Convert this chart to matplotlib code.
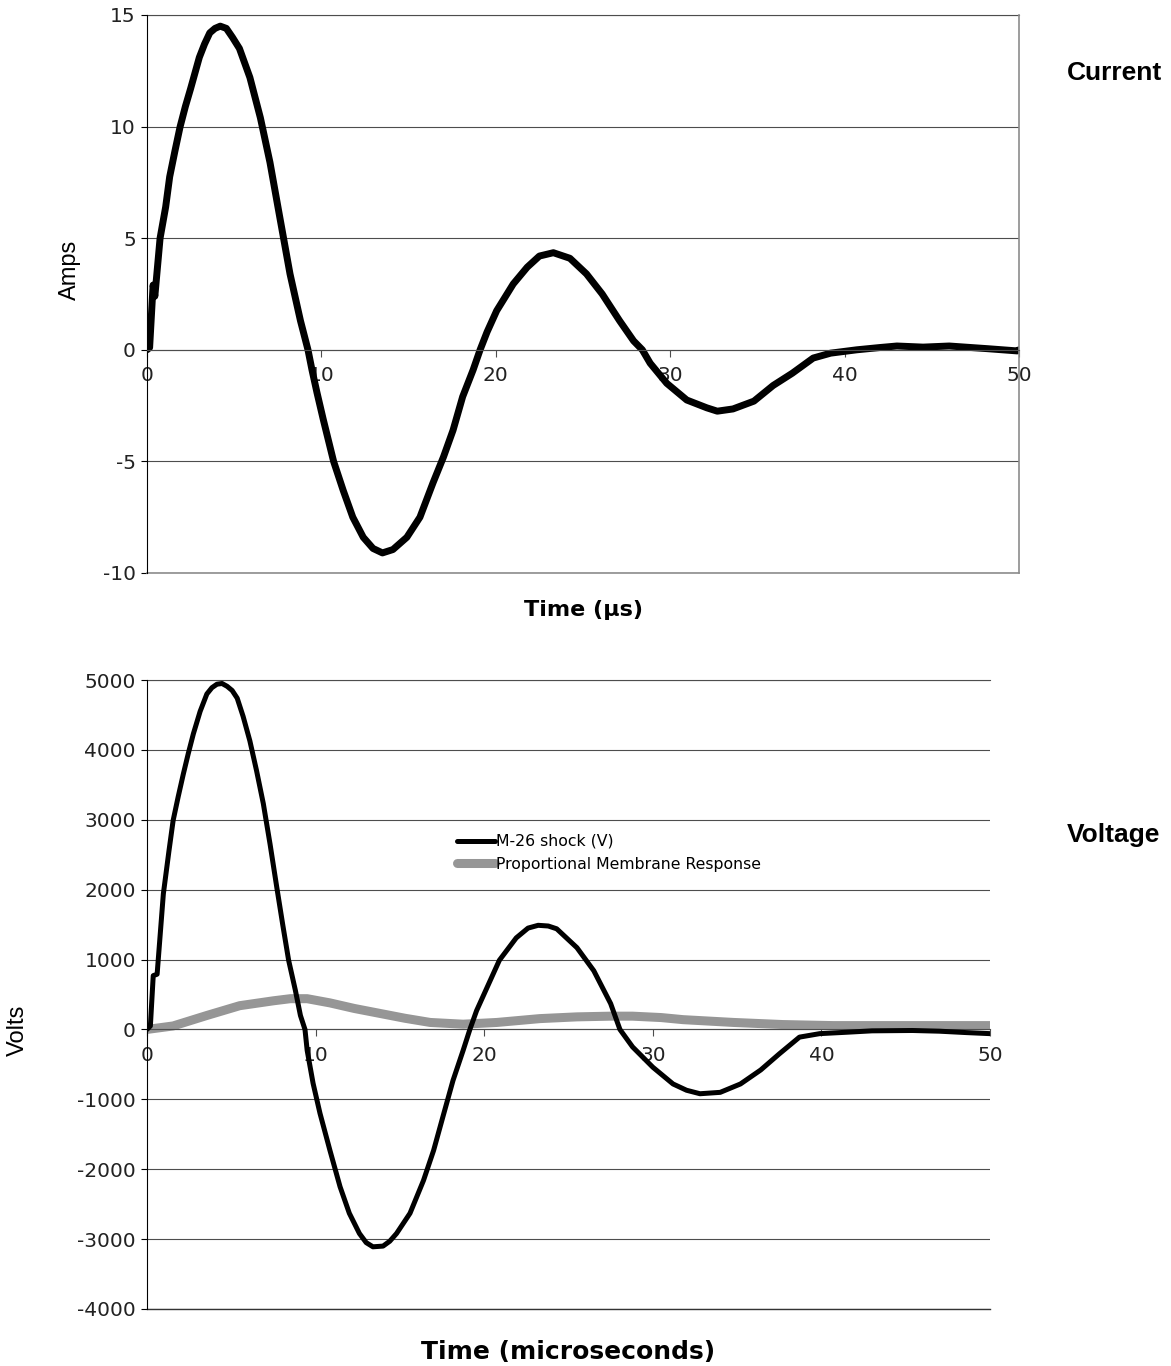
import matplotlib
matplotlib.use("Agg")
import matplotlib.pyplot as plt

plt.rcParams["axes.unicode_minus"] = False

# Current trace (top panel)
t_current = [0, 0.15, 0.35, 0.45, 0.75, 1.07, 1.3, 1.6, 1.9, 2.2, 2.5, 3.0,
             3.3, 3.6, 3.9, 4.2, 4.55, 4.9, 5.3, 5.9, 6.5, 7.05, 7.6, 8.2,
             8.8, 9.23, 9.46, 9.75, 10.1, 10.7, 11.25, 11.8, 12.4, 12.96, 13.5,
             14.1, 14.9, 15.65, 16.4, 17.0, 17.55, 18.1, 18.7, 19.1, 19.5,
             20.05, 21.0, 21.8, 22.5, 23.3, 24.25, 25.2, 26.1, 27.1, 27.9,
             28.4, 28.85, 29.8, 30.95, 32.1, 32.7, 33.6, 34.8, 35.9, 37.0,
             38.2, 39.2, 40.7, 42.0, 43.0, 44.5, 46.0, 48.2, 49.9, 50]
amps = [0, 0.1, 2.9, 2.4, 5.0, 6.4, 7.75, 8.9, 10.0, 10.9, 11.7, 13.1,
        13.7, 14.2, 14.4, 14.5, 14.4, 14.0, 13.5, 12.2, 10.4, 8.4, 6.0, 3.4,
        1.3, 0, -0.9, -1.93, -3.1, -5.0, -6.3, -7.5, -8.4, -8.9, -9.1,
        -8.95, -8.4, -7.5, -5.96, -4.8, -3.6, -2.1, -0.9, 0, 0.8,
        1.75, 2.95, 3.7, 4.2, 4.35, 4.1, 3.4, 2.5, 1.3, 0.4,
        0, -0.6, -1.5, -2.25, -2.6, -2.75, -2.65, -2.3, -1.6, -1.05,
        -0.37, -0.15, 0, 0.1, 0.17, 0.12, 0.17, 0.05, -0.05, 0]

# Voltage trace (bottom panel)
t_voltage = [0, 0.2, 0.37, 0.6, 0.97, 1.3, 1.55, 1.85, 2.15, 2.45, 2.75, 3.15,
             3.55, 3.85, 4.15, 4.45, 4.75, 5.05, 5.35, 5.7, 6.1, 6.5, 6.9, 7.3,
             7.7, 8.05, 8.4, 8.8, 9.1, 9.37, 9.5, 9.85, 10.26, 10.85, 11.45,
             12.0, 12.6, 13.0, 13.4, 14.0, 14.4, 14.8, 15.6, 16.4, 17.0, 17.55,
             18.15, 18.75, 19.15, 19.55, 20.9, 21.9, 22.6, 23.2, 23.8, 24.3,
             25.5, 26.5, 27.5, 28.05, 28.8, 30.0, 31.2, 32.0, 32.8, 34.0, 35.2,
             36.4, 37.5, 38.7, 39.9, 41.5, 43, 45.4, 47, 48.6, 50]
volts = [0, 50, 770, 790, 1940, 2550, 2990, 3330, 3650, 3950, 4230, 4550,
         4800, 4890, 4940, 4950, 4910, 4850, 4740, 4480, 4130, 3700, 3230, 2650,
         2030, 1500, 990, 560, 200, 0, -300, -770, -1200, -1730, -2250,
         -2630, -2920, -3050, -3110, -3100, -3030, -2920, -2630, -2160, -1730,
         -1250, -730, -300, 0, 270, 990, 1310, 1450, 1490, 1480, 1440,
         1170, 840, 370, 0, -250, -540, -780, -870, -920, -900, -780,
         -580, -350, -110, -60, -40, -20, -15, -25, -45, -60]

# Proportional membrane response (grey)
t_membrane = [0, 1.55, 3.55, 5.5, 7.5, 8.5, 9.5, 10.85, 12.3, 13.8, 15.3, 16.8,
              18.75, 20.75, 23.3, 25.5, 27.5, 28.8, 30.5, 31.8, 34.8, 37.7,
              40.7, 45, 50]
membrane = [0, 50, 200, 340, 410, 440, 440, 380, 300, 230, 160, 100,
            75, 100, 155, 180, 190, 190, 170, 140, 100, 70,
            55, 55, 55]

x_ticks = [0, 10, 20, 30, 40, 50]
amp_ticks = [-10, -5, 0, 5, 10, 15]
volt_ticks = [-4000, -3000, -2000, -1000, 0, 1000, 2000, 3000, 4000, 5000]

W, H = 1171, 1366
fig = plt.figure(figsize=(W / 100, H / 100), dpi=100)

grid_col = "#4d4d4d"
frame_col = "#8c8c8c"


def style_axes(ax, yticks, right_frame):
    ax.set_xlim(0, 50)
    ax.set_ylim(yticks[0], yticks[-1])
    ax.set_xticks(x_ticks)
    ax.set_yticks(yticks)
    ax.spines["bottom"].set_position(("data", 0))
    ax.spines["bottom"].set_color(grid_col)
    ax.spines["bottom"].set_linewidth(0.8)
    ax.spines["top"].set_visible(False)
    ax.spines["left"].set_color("black")
    ax.spines["left"].set_linewidth(0.8)
    if right_frame:
        ax.spines["right"].set_color(frame_col)
        ax.spines["right"].set_linewidth(1.2)
    else:
        ax.spines["right"].set_visible(False)
    ax.yaxis.grid(True, color=grid_col, linewidth=0.8)
    ax.set_axisbelow(True)
    ax.tick_params(axis="x", direction="out", length=5, width=0.8,
                   color=grid_col, pad=7, labelsize=14.5, labelcolor="#222222")
    ax.tick_params(axis="y", direction="out", length=4, width=0.8,
                   pad=4, labelsize=14.5, labelcolor="#222222")
    for lab in ax.get_xticklabels() + ax.get_yticklabels():
        lab.set_family("DejaVu Sans")


# Top panel: current
ax1 = fig.add_axes([147 / W, 1 - 573 / H, (1019 - 147) / W, (573 - 15) / H])
style_axes(ax1, amp_ticks, right_frame=True)
ax1.axhline(-10, color=frame_col, linewidth=1.2, clip_on=False)
ax1.axhline(15, color=grid_col, linewidth=0.8, clip_on=False)
ax1.plot(t_current, amps, color="black", linewidth=5,
         solid_capstyle="round", solid_joinstyle="round")
ax1.text(0.5, -0.066, "Time (µs)", transform=ax1.transAxes, ha="center",
         va="center", fontsize=16, fontweight="bold", family="DejaVu Sans")

# Bottom panel: voltage
ax2 = fig.add_axes([147 / W, 1 - 1309 / H, (990 - 147) / W, (1309 - 680) / H])
style_axes(ax2, volt_ticks, right_frame=False)
ax2.axhline(-4000, color="#333333", linewidth=1.0, clip_on=False)
ax2.axhline(5000, color=grid_col, linewidth=0.8, clip_on=False)
ax2.plot(t_membrane, membrane, color="#969696", linewidth=6.5,
         solid_capstyle="round", solid_joinstyle="round",
         label="Proportional Membrane Response", zorder=2)
ax2.plot(t_voltage, volts, color="black", linewidth=3.6,
         solid_capstyle="round", solid_joinstyle="round",
         label="M-26 shock (V)", zorder=3)
handles, labels = ax2.get_legend_handles_labels()
ax2.legend(handles[::-1], labels[::-1], loc="upper left",
           bbox_to_anchor=((457 - 147) / 843, (1309 - 834) / 629),
           frameon=False, fontsize=11.3, handlelength=2.45, handletextpad=0.05,
           borderpad=0, borderaxespad=0, labelspacing=0.5)
ax2.text(0.5, -0.068, "Time (microseconds)", transform=ax2.transAxes,
         ha="center", va="center", fontsize=18, fontweight="bold",
         family="DejaVu Sans")

# Axis titles and side labels
fig.text(70 / W, 1 - 270 / H, "Amps", rotation=90, ha="center", va="center",
         fontsize=17, family="Liberation Sans")
fig.text(18 / W, 1 - 1030 / H, "Volts", rotation=90, ha="center", va="center",
         fontsize=17, family="Liberation Sans")
fig.text(1067 / W, 1 - 73 / H, "Current", ha="left", va="center",
         fontsize=19, fontweight="bold", family="Liberation Sans")
fig.text(1067 / W, 1 - 835 / H, "Voltage", ha="left", va="center",
         fontsize=19, fontweight="bold", family="Liberation Sans")

fig.savefig("out.png", dpi=100)
